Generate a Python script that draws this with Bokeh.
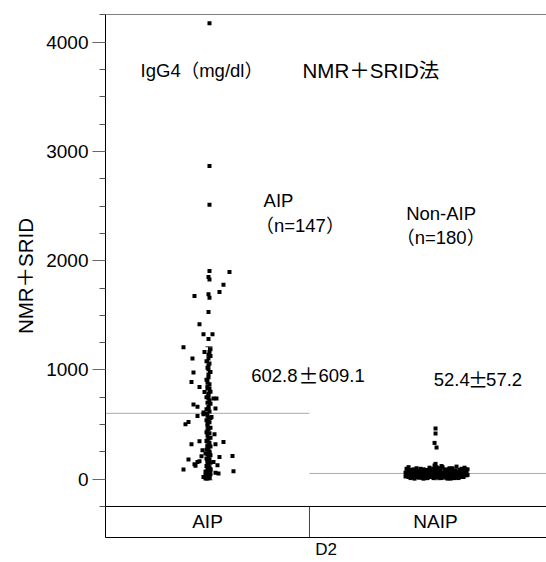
from bokeh.plotting import figure
from bokeh.models import FixedTicker, Span, Range1d, Title
from bokeh.core.properties import value
from bokeh.embed import file_html
from bokeh.resources import INLINE

# ---------------- data ----------------
CATEGORIES = ["AIP", "NAIP"]
GROUP_LABELS = ["AIP", "Non-AIP"]
GROUP_N = ["（n=147）", "（n=180）"]
MEANS = [602.8, 52.4]
SDS = [609.1, 57.2]
MEAN_TEXT = ["602.8", "52.4"]
SD_TEXT = ["609.1", "57.2"]
Y_MAJOR = [0, 1000, 2000, 3000, 4000]
Y_MINOR = [-250, 250, 500, 750, 1250, 1500, 1750, 2250, 2500, 2750,
           3250, 3500, 3750, 4250]

# AIP (n=147): values (mg/dl) and horizontal jitter (px)
AIP_VALUES = [
    4175, 2866, 2513, 1906, 1897, 1851, 1827, 1781, 1714, 1677,
    1693, 1662, 1531, 1418, 1327, 1327, 1284, 1208, 1165, 1165,
    1128, 1104, 1104, 1043, 1006, 976, 958, 890, 890, 844,
    830, 830, 799, 784, 738, 738, 738, 683, 662, 647,
    647, 610, 601, 579, 595, 570, 524, 503, 510, 448,
    412, 348, 320, 357, 320, 341, 296, 265, 235, 241,
    204, 213, 180, 137, 158, 158, 158, 128, 89, 58,
    73, 67, 37, 6, 21, 21, 52, 165, 210, 122,
    10, 15, 25, 30, 45, 50, 60, 70, 80, 90,
    100, 110, 120, 140, 150, 170, 180, 190, 200, 220,
    230, 250, 270, 280, 300, 310, 330, 350, 370, 380,
    400, 420, 430, 460, 470, 490, 520, 540, 550, 560,
    580, 620, 640, 660, 690, 700, 720, 750, 770, 800,
    850, 870, 910, 930, 980, 1020, 1060, 1080, 1140, 1190,
    35, 55, 65, 75, 85, 5, 12,
]
AIP_JITTER = [
    2, 2, 2, 2, 22, 1, 2, 16, 12, -13,
    1, 2, 1, -8, -4, 5, 1, -24, -3, 2,
    3, -15, 1, 1, 1, -14, 1, 0, -16, -8,
    0, 2, -3, 1, 1, 6, 9, -14, -10, 1,
    8, -4, -1, -10, -4, 4, -19, -22, 0, 0,
    7, -8, -16, 0, 8, 16, 0, -5, -2, 2,
    12, 25, -19, -13, -10, 0, 6, 10, -24, 8,
    26, -2, -2, -2, 0, -4, 11, -8, -6, -12,
    0, 2, -1, 1, 3, 0, 2, -1, 1, 3,
    0, 2, -1, 1, 3, 0, 2, -1, 1, 3,
    0, 2, -1, 1, 3, 0, 2, -1, 1, 3,
    0, 2, -1, 1, 3, 0, 2, -1, 1, 3,
    0, 2, -1, 1, 3, 0, 2, -1, 1, 3,
    0, 2, -1, 1, 3, 0, 2, -1, 1, 3,
    0, 2, -1, 1, 3, 0, 2,
]

# NAIP (n=180)
NAIP_VALUES = [
    464, 418, 332, 290,
    60, 95, 40, 110, 75, 30, 85, 50, 20, 70, 45, 100, 35, 65, 15, 55,
    80, 25, 90, 40, 60, 10, 70, 35, 105, 50, 20, 85, 45, 125, 140, 30,
    95, 55, 15, 75, 40, 110, 60, 25, 80, 45, 5, 90, 35, 65, 20, 100,
    50, 75, 30, 115, 60, 10, 85, 40, 95, 55, 20, 105, 70, 35, 90, 25,
    70, 45, 15, 90, 60, 30, 80, 50, 5, 75, 40, 20, 65, 95, 55, 30,
    85, 10, 45, 70, 25, 100, 55, 15, 80, 35, 65, 20, 50, 90, 40, 50,
    20, 80, 35, 5, 65, 40, 95, 60, 15, 85, 50, 25, 70, 40, 110, 20,
    50, 30, 90, 15, 60, 40, 75, 10, 45, 65, 25, 85, 40, 60, 80, 20,
    60, 10, 45, 30, 100, 55, 35, 90, 15, 60, 120, 20, 45, 10, 25, 40,
    55, 30, 15, 60, 85, 40, 65, 10, 20, 35, 50, 25, 5, 45, 75, 15,
    35, 55, 10, 30, 45, 20, 60, 40, 25, 50, 15, 70, 30, 45, 55, 10,
]
NAIP_JITTER = [
    0, 0, -1, 1,
    -30, -29, -28, -27, -26, -25, -24, -23, -22, -21, -20, -19, -18, -17, -16, -15,
    -14, -13, -12, -11, -10, -9, -8, -7, -6, -5, -4, -3, -2, -1, 0, 1,
    2, 3, 4, 5, 6, 7, 8, 9, 10, 11, 12, 13, 14, 15, 16, 17,
    18, 19, 20, 21, 22, 23, 24, 25, 26, 27, 28, 29, 30, 31, 32, -30,
    -28, -26, -24, -22, -20, -18, -16, -14, -12, -10, -8, -6, -4, -2, 0, 2,
    4, 6, 8, 10, 12, 14, 16, 18, 20, 22, 24, 26, 28, 30, 32, -29,
    -27, -25, -23, -21, -19, -17, -15, -13, -11, -9, -7, -5, -3, -1, 1, 3,
    5, 7, 9, 11, 13, 15, 17, 19, 21, 23, 25, 27, 29, 31, -1, 0,
    1, -2, 2, -3, 3, -4, 4, -5, 5, -6, 6, -7, 7, -8, 8, -9,
    9, -10, 10, -11, 11, -12, 12, -13, 13, -14, 14, -15, 15, -16, 16, -17,
    17, -18, 18, -19, 19, -20, 20, -21, 21, -22, 22, -23, 23, -24, 24, -25,
]

# ---------------- layout ----------------
FONT = "'Liberation Sans', 'Noto Sans CJK JP', sans-serif"
CJK = "'Noto Sans CJK JP', sans-serif"
CAT_CENTER = [0.5, 1.618]      # x position of each group
CAT_EDGES = [0.0, 1.0]         # left edge of each group band
X_END = 2.162
Y_START, Y_END = -534, 4254
BOX_TOP = -250
JIT = 1.0 / 204.0              # px -> data units
TS = "18.5px"

p = figure(width=546, height=562, output_backend="svg", toolbar_location=None,
           x_range=Range1d(0, X_END), y_range=Range1d(Y_START, Y_END),
           min_border_left=105, min_border_top=14, min_border_right=0,
           min_border_bottom=25)
p.background_fill_color = "white"
p.border_fill_color = "white"
p.outline_line_color = None
p.xgrid.visible = False
p.ygrid.visible = False

# y axis
ya = p.yaxis[0]
ya.ticker = FixedTicker(ticks=Y_MAJOR, minor_ticks=Y_MINOR)
ya.major_tick_out = 13
ya.major_tick_in = 0
ya.minor_tick_out = 6
ya.minor_tick_in = 0
ya.major_tick_line_color = "#666666"
ya.minor_tick_line_color = "#555555"
ya.axis_line_color = "black"
ya.major_label_text_font = FONT
ya.major_label_text_font_size = "19px"
ya.major_label_text_color = "black"
ya.major_label_standoff = 4

# y axis title (shifted up to centre on the plotting area above the box)
p.add_layout(Title(text="NMR＋SRID", align="center", offset=13,
                   text_font=FONT, text_font_size="20.5px",
                   text_font_style="normal", text_color="black",
                   standoff=14), "left")

# x axis: bare line with the "D2" label
xa = p.xaxis[0]
xa.ticker = FixedTicker(ticks=[])
xa.major_tick_line_color = None
xa.minor_tick_line_color = None
xa.major_label_text_font_size = "0px"
xa.major_label_standoff = 0
xa.axis_line_color = "black"
xa.axis_label = "D2"
xa.axis_label_text_font = FONT
xa.axis_label_text_font_size = "17px"
xa.axis_label_text_font_style = "normal"
xa.axis_label_text_color = "black"
xa.axis_label_standoff = 2

# frame top line and category box line
p.add_layout(Span(location=Y_END, dimension="width", line_color="black", line_width=1))
p.add_layout(Span(location=BOX_TOP, dimension="width", line_color="black", line_width=1))
p.segment(x0=[CAT_EDGES[1]], y0=[Y_START], x1=[CAT_EDGES[1]], y1=[BOX_TOP],
          line_color="#444444", line_width=1)

# category names in box
p.text(x=CAT_CENTER, y=[(BOX_TOP + Y_START) / 2] * 2, text=CATEGORIES,
       text_font=value(FONT), text_font_size="19px", text_align="center",
       text_baseline="middle", text_color="black")

# mean lines
p.segment(x0=CAT_EDGES, y0=MEANS, x1=[CAT_EDGES[1], X_END], y1=MEANS,
          line_color="#aaaaaa", line_width=1)

# SD bars
for c, m, s in zip(CAT_CENTER, MEANS, SDS):
    p.segment(x0=[c + 1 * JIT], y0=[m - s], x1=[c + 1 * JIT], y1=[m + s],
              line_color="black", line_width=1)
    p.segment(x0=[c - 2 * JIT, c - 2 * JIT], y0=[m - s, m + s],
              x1=[c + 5 * JIT, c + 5 * JIT], y1=[m - s, m + s],
              line_color="#333333", line_width=1)

# points
p.scatter(x=[CAT_CENTER[0] + d * JIT for d in AIP_JITTER], y=AIP_VALUES,
          marker="square", size=4, fill_color="black", line_color=None)
p.scatter(x=[CAT_CENTER[1] + d * JIT for d in NAIP_JITTER], y=NAIP_VALUES,
          marker="square", size=4, fill_color="black", line_color=None)

# annotations
def txt(x, y, s, size=TS, font=FONT, align="left"):
    p.text(x=[x], y=[y], text=[s], text_font=value(font), text_font_size=size,
           text_align=align, text_baseline="middle", text_color="black")

txt(0.172, 3742, "IgG4（mg/dl）")
txt(0.966, 3742, "NMR＋SRID法", size="20.5px")
txt(0.775, 2553, GROUP_LABELS[0])
txt(0.735, 2324, GROUP_N[0])
txt(1.474, 2434, GROUP_LABELS[1])
txt(1.425, 2214, GROUP_N[1])

# mean ± SD texts (± drawn in Japanese font, as in the original)
txt(0.714, 951, MEAN_TEXT[0])
txt(0.995, 951, "±", size="20px", font=CJK, align="center")
txt(1.044, 951, SD_TEXT[0])
txt(1.609, 915, MEAN_TEXT[1])
txt(1.826, 915, "±", size="20px", font=CJK, align="center")
txt(1.866, 915, SD_TEXT[1])

open("out.html", "w").write(file_html(p, INLINE))
